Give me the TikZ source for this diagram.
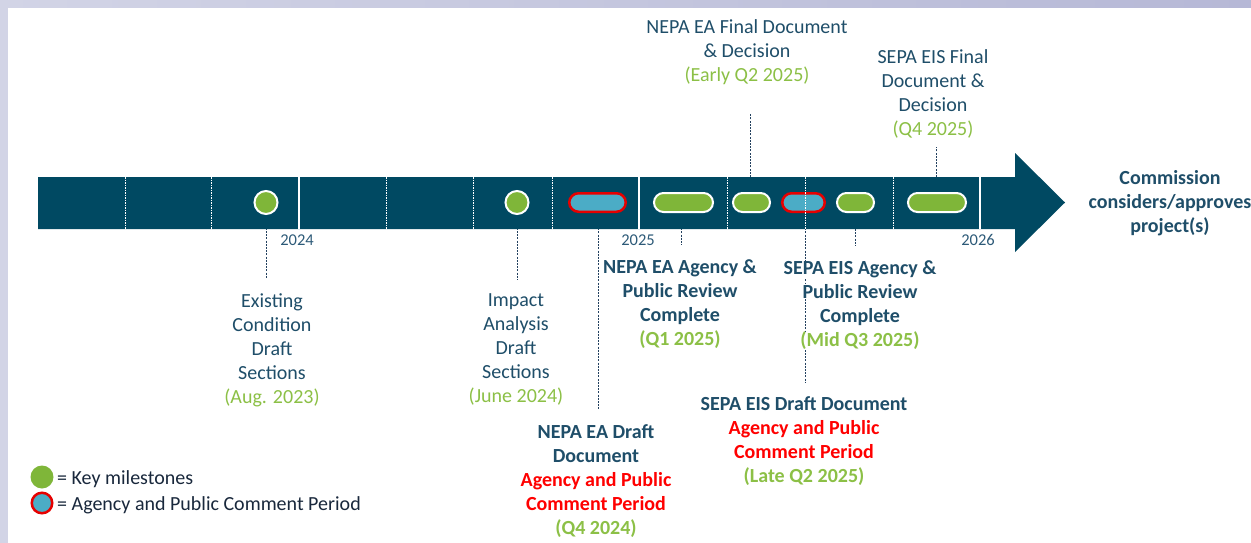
\documentclass[tikz,border=0pt]{standalone}
\usepackage{fontspec}
\setmainfont{Carlito}
\usetikzlibrary{calc}
\definecolor{barcol}{RGB}{0,73,98}
\definecolor{navy}{RGB}{31,78,105}
\definecolor{yearcol}{RGB}{45,90,120}
\definecolor{dgreen}{RGB}{140,192,70}
\definecolor{shapegreen}{RGB}{127,182,57}
\definecolor{pillblue}{RGB}{75,172,198}
\definecolor{redc}{RGB}{255,0,0}
\definecolor{pillred}{RGB}{230,0,0}
\definecolor{conncol}{RGB}{35,65,95}
\definecolor{lavL}{RGB}{210,212,230}
\definecolor{lavR}{RGB}{182,184,214}
\definecolor{legtext}{RGB}{25,40,60}
\pgfdeclarelayer{layerA}\pgfdeclarelayer{layerB}\pgfdeclarelayer{layerC}
\pgfsetlayers{layerA,layerB,layerC,main}
\begin{document}
\begin{tikzpicture}[x=1pt,y=-1pt,
  txt/.style={font=\fontsize{20}{24}\selectfont, align=center, inner sep=0pt, text=navy},
  btxt/.style={txt, font=\fontsize{20}{24}\selectfont\bfseries},
  yr/.style={font=\fontsize{16.5}{20}\selectfont, inner sep=0pt, text=yearcol},
  legt/.style={font=\fontsize{20}{24}\selectfont, inner sep=0pt, text=legtext},
  gpill/.style={draw=white, line width=2pt, fill=shapegreen, rounded corners=9.5pt, minimum height=19pt, inner sep=0pt},
  rpill/.style={draw=pillred, line width=2.5pt, fill=pillblue, rounded corners=9.25pt, minimum height=18.5pt, inner sep=0pt},
  milestone/.style={circle, draw=white, line width=2pt, fill=shapegreen, minimum size=23pt, inner sep=0pt},
  conn/.style={draw=conncol, line width=1pt, dash pattern=on 2pt off 1.2pt},
  divd/.style={draw=white, line width=1pt, dash pattern=on 1.5pt off 1pt},
  divs/.style={draw=white, line width=1.2pt}]
\useasboundingbox (0,0) rectangle (1251,543);
\begin{pgfonlayer}{layerA}
\shade[left color=lavL, right color=lavR] (0,0) rectangle (1251,543);
\fill[white] (8,8) rectangle (1251,543);
\end{pgfonlayer}

% milestones and periods
\node[milestone] (c1) at (266,202.5) {};
\node[milestone] (c2) at (517,202.5) {};
\node[rpill, minimum width=56.5pt] (p1) at (597.5,202.5) {};
\node[gpill, minimum width=59pt] (g1) at (683.5,202.5) {};
\node[gpill, minimum width=37pt] (g2) at (751.5,202.5) {};
\node[rpill, minimum width=42.5pt] (p2) at (803.5,202.5) {};
\node[gpill, minimum width=37pt] (g3) at (855.5,202.5) {};
\node[gpill, minimum width=58pt] (g4) at (937,202.5) {};

% quarter dividers
\foreach \x in {125,211,386,473,552,727,805,893}
  \draw[divd] (\x,177) -- (\x,229);
\foreach \x in {299,639,980}
  \draw[divs] (\x,177) -- (\x,229);

% year labels
\node[yr, anchor=base] (y24) at (297,245.5) {2024};
\node[yr, anchor=base] (y25) at (638,245.5) {2025};
\node[yr, anchor=base] (y26) at (978,245.5) {2026};

% labels
\node[txt, anchor=north] (nf) at (747,19.5) {NEPA EA Final Document\\\& Decision\\\textcolor{dgreen}{(Early Q2 2025)}};
\node[txt, anchor=north] (sf) at (933,49.5) {SEPA EIS Final\\Document \&\\Decision\\\textcolor{dgreen}{(Q4 2025)}};
\node[txt, anchor=north] (ex) at (272,293.5) {Existing\\Condition\\Draft\\Sections\\\textcolor{dgreen}{(Aug. 2023)}};
\node[txt, anchor=north] (im) at (516,293.5) {Impact\\Analysis\\Draft\\Sections\\\textcolor{dgreen}{(June 2024)}};
\node[btxt, anchor=north] (nd) at (596,424.5) {NEPA EA Draft\\Document\\\textcolor{redc}{Agency and Public}\\\textcolor{redc}{Comment Period}\\\textcolor{dgreen}{(Q4 2024)}};
\node[btxt, anchor=north] (na) at (680,259.5) {NEPA EA Agency \&\\Public Review\\Complete\\\textcolor{dgreen}{(Q1 2025)}};
\node[btxt, anchor=north] (sd) at (804,396.5) {SEPA EIS Draft Document\\\textcolor{redc}{Agency and Public}\\\textcolor{redc}{Comment Period}\\\textcolor{dgreen}{(Late Q2 2025)}};
\node[btxt, fill=white, anchor=base] (sa1) at (860,274.5) {SEPA EIS Agency \&};
\node[btxt, fill=white, anchor=base] (sa2) at (860,298.5) {Public Review};
\node[btxt, fill=white, anchor=base] (sa3) at (860,322.5) {Complete};
\node[btxt, fill=white, anchor=base] (sa4) at (860,346.5) {\textcolor{dgreen}{(Mid Q3 2025)}};
\node[btxt, anchor=north] (cm) at (1170,170.5) {Commission\\considers/approves\\project(s)};

% legend
\node[circle, fill=shapegreen, minimum size=23pt, inner sep=0pt] (lg1) at (42,477) {};
\node[circle, fill=pillblue, draw=pillred, line width=2.5pt, minimum size=20.5pt, inner sep=0pt] (lg2) at (42,503) {};
\node[legt, anchor=base west] (lt1) at (57,484) {= Key milestones};
\node[legt, anchor=base west] (lt2) at (57,510) {= Agency and Public Comment Period};

% timeline bar
\begin{pgfonlayer}{layerC}
\fill[barcol] (38,177) -- (1015,177) -- (1015,153) -- (1065,202.5) -- (1015,252) -- (1015,229) -- (38,229) -- cycle;
\end{pgfonlayer}

% connectors
\begin{pgfonlayer}{layerB}
\draw[conn, shorten >=15.5pt] (c1) -- (c1 |- ex.north);
\draw[conn, shorten >=13.5pt] (c2) -- (c2 |- im.north);
\draw[conn, shorten >=14.5pt] ([xshift=0.5pt]p1.center) -- ([xshift=0.5pt]p1.center |- nd.north);
\draw[conn, shorten >=14.5pt] ([xshift=-2.5pt]g1.center) -- ([xshift=-2.5pt]g1.center |- na.north);
\draw[conn, shorten >=28.5pt] ([xshift=-1.5pt]g2.center) -- ([xshift=-1.5pt]g2.center |- nf.south);
\draw[conn, shorten >=13.5pt] ([xshift=1.5pt]p2.center) -- ([xshift=1.5pt]p2.center |- sd.north);
\draw[conn, shorten >=14.5pt] (g3) -- (g3 |- sa1.north);
\draw[conn, shorten >=8.5pt] ([xshift=-1pt]g4.center) -- ([xshift=-1pt]g4.center |- sf.south);
\end{pgfonlayer}
\end{tikzpicture}
\end{document}
